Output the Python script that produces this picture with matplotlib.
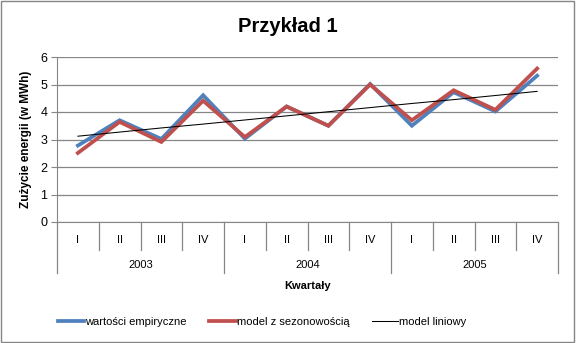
import matplotlib.pyplot as plt
from matplotlib.patches import Rectangle
import matplotlib.transforms as mtransforms

quarters = ['I', 'II', 'III', 'IV'] * 3
years = ['2003', '2004', '2005']
empiryczne = [2.78, 3.70, 3.02, 4.61, 3.03, 4.20, 3.50, 5.02, 3.50, 4.72, 4.02, 5.32]
sezonowy = [2.51, 3.64, 2.91, 4.41, 3.09, 4.20, 3.50, 5.00, 3.70, 4.79, 4.08, 5.58]
liniowy = [3.12, 3.27, 3.42, 3.56, 3.71, 3.86, 4.01, 4.16, 4.31, 4.45, 4.60, 4.75]

plt.rcParams['font.family'] = ['Liberation Sans', 'DejaVu Sans']
grid_col = '#868686'

fig = plt.figure(figsize=(5.76, 3.43), dpi=100)
ax = fig.add_axes([57 / 576, 1 - 222 / 343, (558 - 57) / 576, (222 - 57) / 343])

x = list(range(len(quarters)))
ax.plot(x, empiryczne, color='#4F81BD', lw=2.7, label='wartości empiryczne', solid_joinstyle='miter')
ax.plot(x, sezonowy, color='#C0504D', lw=2.7, label='model z sezonowością', solid_joinstyle='miter')
ax.plot(x, liniowy, color='black', lw=0.75, label='model liniowy')

ax.set_xlim(-0.5, len(quarters) - 0.5)
ax.set_ylim(0, 6)
ax.set_yticks(range(0, 7))
ax.yaxis.grid(True, color=grid_col, lw=0.9)
ax.set_axisbelow(True)
for s in ['top', 'right']:
    ax.spines[s].set_visible(False)
ax.spines['left'].set_color(grid_col)
ax.spines['bottom'].set_color(grid_col)
ax.tick_params(axis='y', colors=grid_col, labelcolor='black', labelsize=9, length=4, pad=3)
ax.set_xticks([])

# category axis: quarters and years
trans = mtransforms.blended_transform_factory(ax.transData, ax.transAxes)
for i in range(len(quarters) + 1):
    bottom = -0.31 if i % 4 == 0 else -0.17
    ax.plot([i - 0.5, i - 0.5], [0, bottom], transform=trans, color=grid_col, lw=0.9, clip_on=False)
for i, q in enumerate(quarters):
    ax.text(i, -0.11, q, transform=trans, ha='center', va='center', fontsize=8)
for j, yr in enumerate(years):
    ax.text(4 * j + 1.5, -0.26, yr, transform=trans, ha='center', va='center', fontsize=8)

ax.text(0.5, -0.385, 'Kwartały', transform=ax.transAxes, ha='center', va='center',
        fontsize=8, fontweight='bold')
ax.set_ylabel('Zużycie energii (w MWh)', fontsize=8.5, fontweight='bold', labelpad=6)

fig.text(0.5, 1 - 27 / 343, 'Przykład 1', ha='center', va='center', fontsize=14.5, fontweight='bold')

fig.legend(loc='center', bbox_to_anchor=(0.455, 1 - 322 / 343), ncol=3, frameon=False,
           fontsize=8, handlelength=2.4, columnspacing=2.0, handletextpad=0.1)

fig.patches.append(Rectangle((0.002, 0.003), 0.995, 0.994, transform=fig.transFigure,
                             fill=False, edgecolor=grid_col, lw=1))

fig.savefig('out.png', dpi=100)
